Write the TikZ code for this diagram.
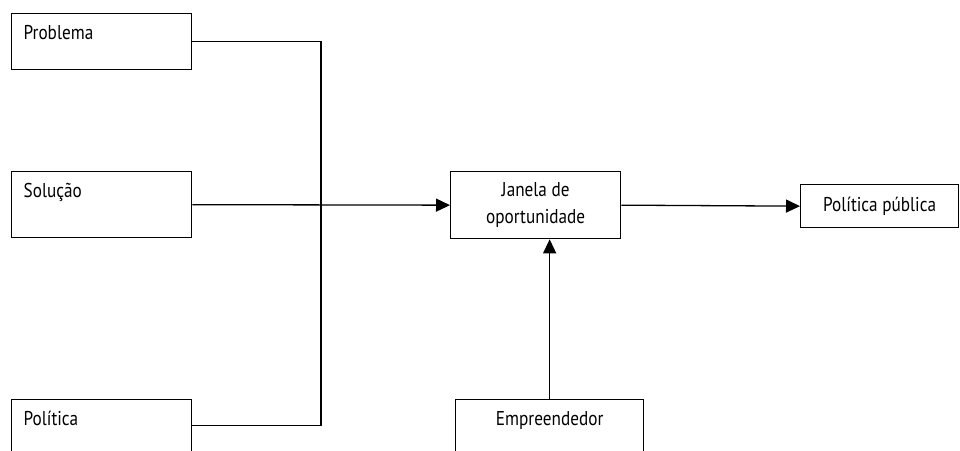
\documentclass[tikz,border=0pt]{standalone}
\usepackage{fontspec}
\setmainfont{PT Sans}[FakeStretch=0.86]
\usepackage{tikz}
\usetikzlibrary{arrows.meta, calc}

\begin{document}
\begin{tikzpicture}[x = 1pt, y = -1pt, line width = 1.3pt,
        font = \fontsize{20}{27}\selectfont,
        streambox/.style = {draw, anchor = north west, inner xsep = 12pt, inner ysep = 4pt, text width = 156pt, align = left, text height = 22pt},
        flow/.style = {-{Triangle[length = 14pt, width = 13pt]}}]
        \useasboundingbox (0,0) rectangle (960,450);
        \clip (0,0) rectangle (960,450);

        % the three streams
        \node (problema) [streambox, text depth = 26pt] at (11,13) {Problema};
        \node (solucao) [streambox, text depth = 36pt] at (11,171) {Solução};
        \node (politica) [streambox, text depth = 36pt] at (11,399) {Política};

        \node (janela) [draw, anchor = north west, minimum width = 170pt, minimum height = 67pt, align = center] at (450,171) {Janela de\\oportunidade};
        \node (publica) [draw, anchor = north west, minimum width = 158pt, minimum height = 43pt] at (800,184) {Política pública};
        \node (empreendedor) [draw, anchor = north west, inner xsep = 12pt, inner ysep = 4pt, text width = 164pt, align = center, text height = 22pt, text depth = 36pt] at (455,399) {Empreendedor};

        \coordinate (juncao) at (321,204);

        \draw (problema.east) -| (juncao) |- (politica.base east);
        \draw [flow] (solucao.east) -- (janela.west);
        \draw [flow] (janela.east) -- (publica.west);
        \draw [flow] (empreendedor.north) -- (empreendedor.north |- janela.south);
    \end{tikzpicture}
\end{document}
